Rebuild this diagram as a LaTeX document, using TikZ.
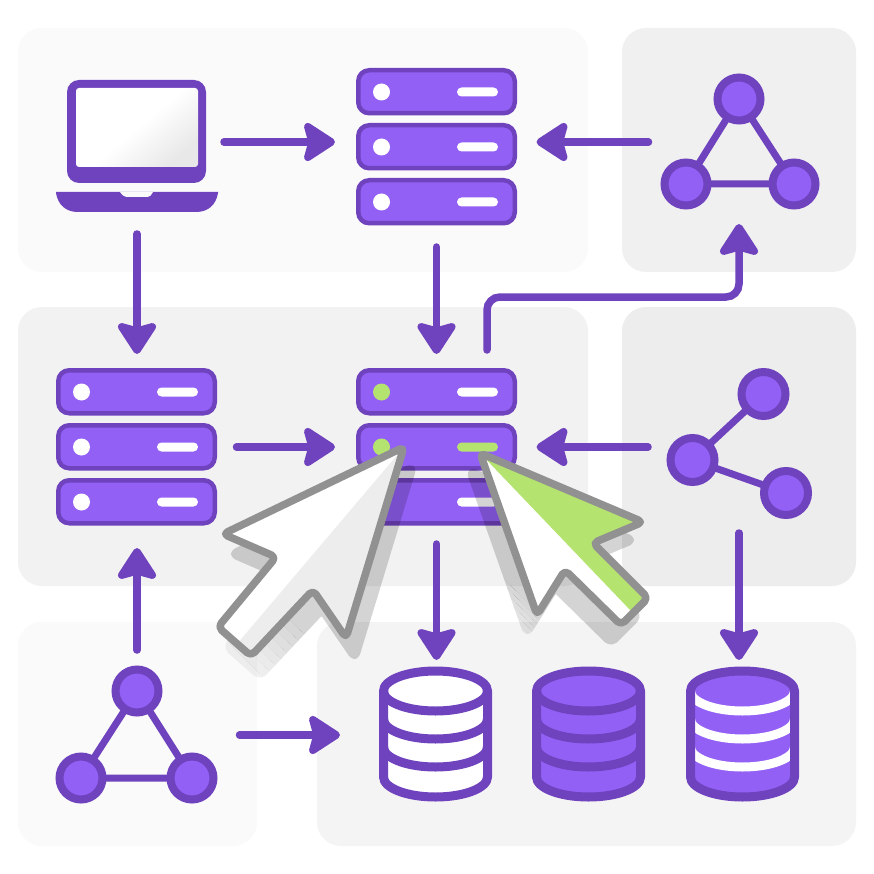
\documentclass[tikz,border=0pt]{standalone}
\usetikzlibrary{arrows.meta}
\definecolor{pdark}{HTML}{6F42BE}
\definecolor{plight}{HTML}{9360F5}
\definecolor{lime}{HTML}{B5E36F}
\definecolor{cgray}{HTML}{919191}
\tikzset{
  panel/.style={fill=#1,draw=none,rounded corners=24pt},
  anchorbox/.style={inner sep=0pt,outer sep=0pt,minimum width=#1},
  flow/.style={draw=pdark,line width=7.5pt,line cap=round,
    -{Stealth[length=36pt,width=46pt,inset=6pt,round=false]}},
  rowbox/.style={fill=plight,draw=pdark,line width=4.5pt,rounded corners=11pt},
  edge/.style={draw=pdark,line width=7pt},
  dotc/.style={fill=plight,draw=pdark,line width=8pt},
  dbline/.style={draw=pdark,line width=9pt,line join=round},
  curs/.style={draw=cgray,line width=7.5pt,line join=round,rounded corners=5pt},
  cshape/.style={rounded corners=5pt},
  shadowshape/.style={fill=black,draw=black,line width=7.5pt,line join=round,rounded corners=5pt},
}
\newcommand{\srvrow}[4]{
  \path[rowbox] (#1+2.25,#2+2.25) rectangle (#1+158.75,#2+45.25);
  \fill[#3] (#1+25.5,#2+24) circle[radius=8.5];
  \fill[#4,rounded corners=4.5pt] (#1+101,#2+19.5) rectangle (#1+142,#2+28.5);
}
\newcommand{\dbbody}[2]{
  \path[fill=#2] (#1-52,691) arc[start angle=180,end angle=360,x radius=52,y radius=20]
     -- (#1+52,777) arc[start angle=0,end angle=180,x radius=52,y radius=20] -- cycle;
}
\newcommand{\dboutline}[1]{
  \draw[dbline] (#1-52,691) arc[start angle=180,end angle=360,x radius=52,y radius=20]
     -- (#1+52,777) arc[start angle=0,end angle=180,x radius=52,y radius=20] -- cycle;
}
\newcommand{\dbarc}[3]{
  \draw[#3] (#1-52,#2) arc[start angle=180,end angle=0,x radius=52,y radius=20];
}
\newcommand{\threedot}[6]{
  \draw[edge] (#1,#2) -- (#3,#4) -- (#5,#6) -- cycle;
  \path[dotc] (#1,#2) circle[radius=21.5];
  \path[dotc] (#3,#4) circle[radius=21.5];
  \path[dotc] (#5,#6) circle[radius=21.5];
}
\def\cursL{(404,447) -- (223,534) -- (276,557) -- (218,627) -- (251,656) -- (313,590) -- (346,638) -- cycle}
\def\cursR{(480,453) -- (643,522) -- (593,543) -- (648,598) -- (621,625) -- (565,570) -- (537,615) -- cycle}
% one diagonal band of a fading shadow: shape, shift, band limits, opacity
\newcommand{\shband}[6]{
  \begin{scope}[transparency group,opacity=#6]
    \clip (400+#4,400) -- (720+#4,720) -- (720+#5,720) -- (400+#5,400) -- cycle;
    \path[shadowshape,shift={(#2,#3)}] #1;
  \end{scope}
}
\begin{document}
\begin{tikzpicture}[x=1pt,y=-1pt]
\useasboundingbox (0,0) rectangle (874,874);
\fill[white] (0,0) rectangle (874,874);
% panels
\path[panel=black!2]  (18,28) rectangle (588,272);
\path[panel=black!6]  (622,28) rectangle (856,272);
\path[panel=black!5]  (18,307) rectangle (588,586);
\path[panel=black!7]  (622,307) rectangle (856,586);
\path[panel=black!2]  (18,622) rectangle (257,846);
\path[panel=black!4.5]  (317,622) rectangle (856,846);
% anchors for the connectors
\node[anchorbox=162pt,minimum height=144pt] (laptop) at (137,142) {};
\node[anchorbox=161pt,minimum height=166pt] (srvtop) at (436.5,142) {};
\node[anchorbox=157pt,minimum height=132pt] (tritop) at (739,142) {};
\node[anchorbox=161pt,minimum height=158pt] (srvleft) at (137,447) {};
\node[anchorbox=161pt,minimum height=158pt] (srvmid) at (436.5,447) {};
\node[anchorbox=146pt,minimum height=140pt] (share) at (739,447) {};
\node[anchorbox=161pt,minimum height=138pt] (tribot) at (137,735) {};
\node[anchorbox=113pt,minimum height=134pt] (dbone) at (436.5,734) {};
\node[anchorbox=113pt,minimum height=134pt] (dbthree) at (739,734) {};
\coordinate (tap) at (487,368);
\coordinate (turnA) at (487,297);
\coordinate (turnB) at (739,297);
\coordinate (pin) at (379,735);
% connectors
\draw[flow,shorten <=6pt,shorten >=21pt] (laptop) -- (srvtop);
\draw[flow,shorten <=12pt,shorten >=19.5pt] (tritop) -- (srvtop);
\draw[flow,shorten <=20pt,shorten >=14pt] (laptop) -- (srvleft);
\draw[flow,shorten <=22pt,shorten >=14pt] (srvtop) -- (srvmid);
\draw[flow,rounded corners=13pt,shorten <=18pt,shorten >=16pt] (tap) -- (turnA) -- (turnB) -- (tritop);
\draw[flow,shorten <=19pt,shorten >=21pt] (srvleft) -- (srvmid);
\draw[flow,shorten <=18pt,shorten >=19.5pt] (share) -- (srvmid);
\draw[flow,shorten <=18pt,shorten >=7pt] (srvmid) -- (dbone);
\draw[flow,shorten <=16pt,shorten >=7pt] (share) -- (dbthree);
\draw[flow,shorten <=16pt,shorten >=22pt] (tribot) -- (srvleft);
\draw[flow,shorten <=22pt,shorten >=39pt] (tribot) -- (pin);
% laptop
\fill[pdark,rounded corners=12pt] (67,80) rectangle (206,183);
\shade[top color=white,bottom color=black!9,middle color=white,shading angle=40,rounded corners=3pt] (76,88) -- (198,88) -- (198,167) -- (76,167) -- cycle;
\fill[pdark] (56,192) -- (218,192) -- (218,193) .. controls (216,205) and (208,212) .. (196,212) -- (78,212) .. controls (66,212) and (58,205) .. (56,193) -- cycle;
\fill[black!2] (120,192) .. controls (122,195) and (124,197) .. (128,197) -- (146,197) .. controls (150,197) and (152,195) .. (153,192) -- cycle;
% server stacks
\srvrow{356}{68}{white}{white}\srvrow{356}{123}{white}{white}\srvrow{356}{178}{white}{white}
\srvrow{56}{368}{white}{white}\srvrow{56}{423}{white}{white}\srvrow{56}{478}{white}{white}
\srvrow{356}{368}{lime}{white}\srvrow{356}{423}{lime}{lime}\srvrow{356}{478}{white}{white}
% triangles and share
\threedot{739}{99}{686}{184}{794}{184}
\threedot{137}{691}{81}{778}{192}{778}
\draw[edge] (763.5,394) -- (692.5,460) -- (786,493);
\path[dotc] (763.5,394) circle[radius=22];
\path[dotc] (692.5,460) circle[radius=22];
\path[dotc] (786,493) circle[radius=22];
% databases
\dbbody{435.5}{white}\dbarc{435.5}{691}{dbline}\dbarc{435.5}{719}{dbline}\dbarc{435.5}{747}{dbline}\dboutline{435.5}
\dbbody{588.5}{plight}\dbarc{588.5}{691}{dbline}\dbarc{588.5}{719}{dbline}\dbarc{588.5}{747}{dbline}\dboutline{588.5}
\dbbody{742.5}{plight}
\dbarc{742.5}{691}{white,line width=9pt}\dbarc{742.5}{719}{white,line width=9pt}\dbarc{742.5}{747}{white,line width=9pt}
\dboutline{742.5}
% cursor shadows, fading towards the lower left
\foreach \ca/\cb/\op in {300/-330/.17,-330/-342/.155,-342/-354/.14,-354/-366/.125,-366/-378/.11,-378/-390/.095,-390/-402/.08,-402/-414/.065,-414/-460/.05}{
  \shband{\cursL}{9}{20}{\ca}{\cb}{\op}
}
\foreach \ca/\cb/\op in {300/-75/.17,-75/-81/.155,-81/-87/.14,-87/-93/.125,-93/-99/.11,-99/-105/.095,-105/-111/.08,-111/-117/.065,-117/-170/.05}{
  \shband{\cursR}{-10}{18}{\ca}{\cb}{\op}
}
\fill[white,cshape] \cursL;
\fill[black!7] (404,447) -- (237,644) -- (251,656) -- (313,590) -- (346,638) -- cycle;
\path[curs] \cursL;
\fill[white,cshape] \cursR;
\fill[lime] (480,453) -- (643,522) -- (593,543) -- (648,598) -- (632,612) -- cycle;
\path[curs] \cursR;
\end{tikzpicture}
\end{document}
